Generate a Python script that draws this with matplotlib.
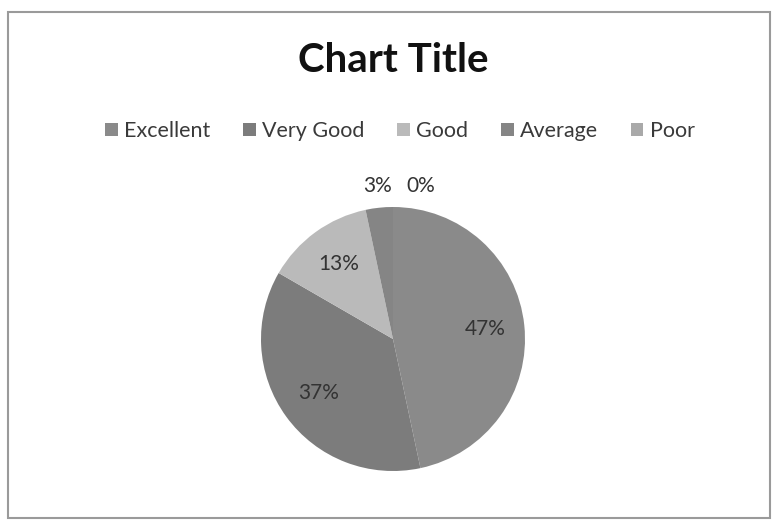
import matplotlib.pyplot as plt
from matplotlib.patches import Rectangle

# 응답 수 (합계 30)
categories = ['Excellent', 'Very Good', 'Good', 'Average', 'Poor']
counts = [14, 11, 4, 1, 0]
colors = ['#8a8a8a', '#7c7c7c', '#bababa', '#858585', '#a9a9a9']

plt.rcParams['font.family'] = ['Lato', 'DejaVu Sans']

fig = plt.figure(figsize=(7.73, 5.21), dpi=100)
fig.patch.set_facecolor('white')

# 바깥 테두리
fig.patches.append(Rectangle((8 / 773, 3 / 521), 762 / 773, 506 / 521,
                             transform=fig.transFigure, fill=False,
                             edgecolor='#9a9a9a', linewidth=1.5))

fig.text(393 / 773, 1 - 61 / 521, 'Chart Title', ha='center', va='center',
         fontsize=29, fontweight='bold', color='#111111')

cx, cy, r = 393, 339, 132
ax = fig.add_axes([(cx - r) / 773, (521 - cy - r) / 521, 2 * r / 773, 2 * r / 521])
wedges, texts, autotexts = ax.pie(counts, colors=colors, startangle=90, counterclock=False,
                                  autopct='%1.0f%%', pctdistance=0.7,
                                  textprops={'fontsize': 15, 'color': '#333333'})
ax.set_xlim(-1, 1)
ax.set_ylim(-1, 1)
ax.set_aspect('equal')

# 작은 조각 라벨은 위쪽으로 이동
autotexts[3].set_position((-0.12, 1.16))
autotexts[4].set_position((0.21, 1.16))
for t in autotexts[3:]:
    t.set_clip_on(False)

fig.legend(wedges, categories, loc='center', bbox_to_anchor=(400 / 773, 1 - 131 / 521),
           ncol=5, frameon=False, fontsize=15.5, handlelength=0.6, handleheight=0.6,
           handletextpad=0.3, columnspacing=1.5, labelcolor='#3a3a3a')

fig.savefig('out.png', dpi=100)
